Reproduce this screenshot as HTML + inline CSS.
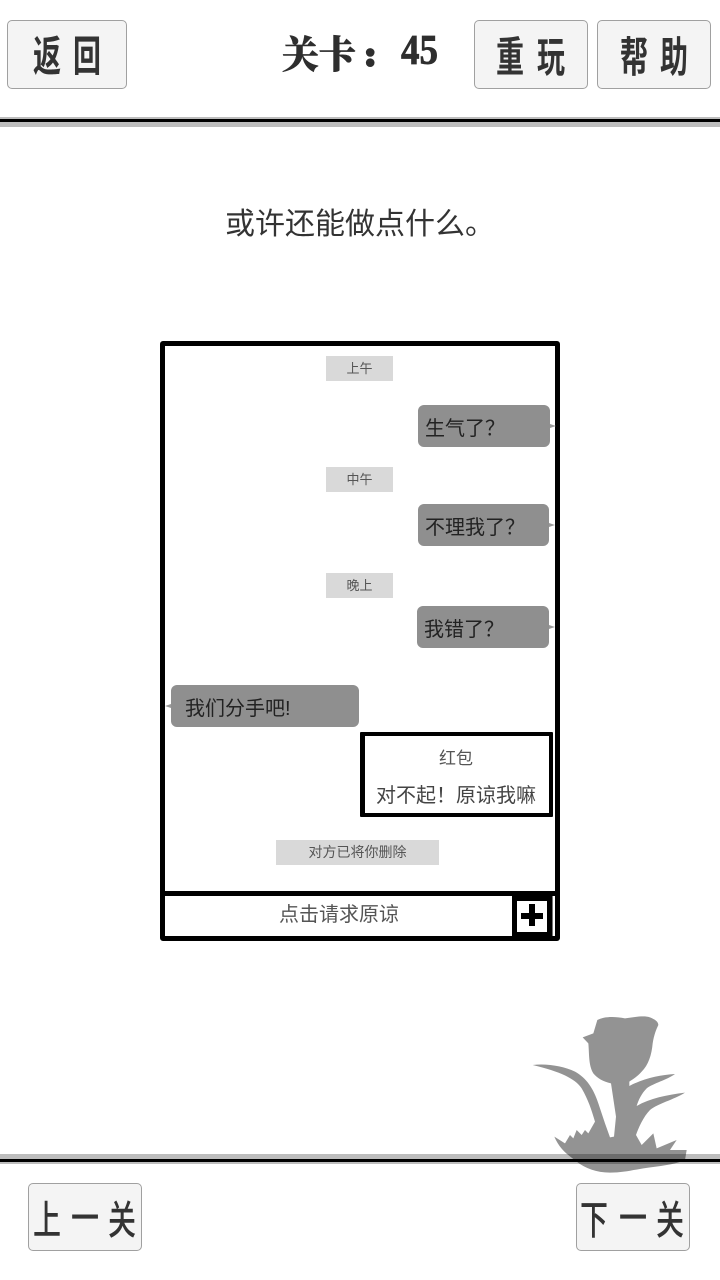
<!DOCTYPE html>
<html lang="zh"><head><meta charset="utf-8"><style>
html,body{margin:0;padding:0;background:#fff}
body{position:relative;width:720px;height:1280px;overflow:hidden;font-family:"Liberation Sans","Noto Sans CJK SC",sans-serif;color:#333}
div{position:absolute;box-sizing:border-box}
.t{white-space:nowrap;line-height:1}
.btn{background:#f4f4f4;border:1px solid #a0a0a0;border-radius:5px}
.g{transform-origin:0 0;font-weight:700;font-family:"Noto Sans CJK SC",sans-serif;color:#333;white-space:nowrap;line-height:1;font-size:40px}
.v{transform:scale(.7,1.05)}
.n{font-weight:500;transform:scale(.7,1)}
.h{font-family:"Noto Serif CJK SC",serif;font-weight:900;font-size:38px;color:#2e2e2e;-webkit-text-stroke:.6px #2e2e2e}
.b{background:#8f8f8f;border-radius:6px;height:42px}
.b span{position:absolute;left:7px;top:14px;font-size:20px;line-height:1;color:#222;white-space:nowrap}
.l{background:#d9d9d9;height:25px;width:67px;font-size:13px;text-align:center;line-height:25px;color:#555}
.th{width:0;height:0;border-top:2.500px solid transparent;border-bottom:2.500px solid transparent}
</style></head><body>
<div style="left:0;top:117px;width:720px;height:10px;background:#bdbdbd"></div>
<div style="left:0;top:119px;width:720px;height:3px;background:#000"></div>
<div style="left:0;top:1154px;width:720px;height:10px;background:#bdbdbd"></div>
<div style="left:0;top:1159px;width:720px;height:3px;background:#000"></div>

<div class="btn" style="left:7px;top:20px;width:120px;height:69px"></div>
<div class="g v" style="left:33px;top:32px">返</div>
<div class="g v" style="left:73px;top:32px">回</div>
<div class="g h" style="left:282px;top:33px;transform:scaleX(.97)">关卡</div>
<div class="g" style="left:365px;top:38px;font-family:'Liberation Serif',serif;font-size:32px;color:#2e2e2e;-webkit-text-stroke:3.5px #2e2e2e">:</div>
<div class="g" style="left:401px;top:30px;font-family:'Liberation Serif',serif;font-weight:700;font-size:42px;transform:scaleX(.88);color:#2e2e2e;-webkit-text-stroke:.8px #2e2e2e">45</div>
<div class="btn" style="left:474px;top:20px;width:114px;height:69px"></div>
<div class="g v" style="left:496px;top:33px">重</div>
<div class="g v" style="left:537px;top:33px">玩</div>
<div class="btn" style="left:597px;top:20px;width:114px;height:69px"></div>
<div class="g v" style="left:620px;top:33px">帮</div>
<div class="g v" style="left:660px;top:33px">助</div>

<div class="t" style="left:225px;top:210px;font-size:30px;color:#333;font-weight:400">或许还能做点什么。</div>

<div style="left:160px;top:341px;width:400px;height:600px;border:5px solid #000;border-radius:3px"></div>
<div class="l" style="left:326px;top:356px">上午</div>
<div class="l" style="left:326px;top:467px">中午</div>
<div class="l" style="left:326px;top:573px">晚上</div>
<div class="l" style="left:276px;top:840px;width:163px;font-size:14px">对方已将你删除</div>

<div class="b" style="left:418px;top:405px;width:132px"><span>生气了？</span></div>
<div class="th" style="left:550px;top:423.500px;border-left:6px solid #9a9a9a"></div>
<div class="b" style="left:418px;top:504px;width:131px"><span>不理我了？</span></div>
<div class="th" style="left:549px;top:522.500px;border-left:6px solid #9a9a9a"></div>
<div class="b" style="left:417px;top:606px;width:132px"><span>我错了？</span></div>
<div class="th" style="left:549px;top:624.500px;border-left:6px solid #9a9a9a"></div>
<div class="b" style="left:171px;top:685px;width:188px"><span style="left:14px">我们分手吧!</span></div>
<div class="th" style="left:165px;top:703.500px;border-right:6px solid #9a9a9a"></div>

<div style="left:360px;top:732px;width:193px;height:85px;border:4px solid #000;border-left-width:5px;border-radius:1px"></div>
<div class="t" style="left:439px;top:750px;font-size:17px;color:#555">红包</div>
<div class="t" style="left:376px;top:786px;font-size:20px;color:#444">对不起！原谅我嘛</div>

<div style="left:163px;top:891px;width:394px;height:5px;background:#000"></div>
<div class="t" style="left:279px;top:905px;font-size:20px;color:#555">点击请求原谅</div>
<div style="left:512px;top:896px;width:40px;height:41px;border:5px solid #000;background:#fff"></div>
<div style="left:552px;top:896px;width:1px;height:40px;background:#777"></div>
<div style="left:521px;top:912.500px;width:22px;height:6px;background:#000"></div>
<div style="left:529px;top:904px;width:6px;height:22px;background:#000"></div>

<svg width="720" height="1280" viewBox="0 0 720 1280" style="position:absolute;left:0;top:0;mix-blend-mode:multiply">
<g transform="translate(510 1000) scale(.33333)">
<path fill="#939393" d="M262 60 C280 50 310 48 345 55 C370 52 400 45 420 52 C435 58 445 65 445 75 C438 90 432 105 428 130 C425 165 415 195 395 215 C380 232 365 240 358 245 L358 258 C400 235 450 225 495 222 C470 240 430 250 410 265 C395 280 385 300 380 318 C420 295 470 285 525 278 C490 300 445 310 420 330 C400 350 385 385 378 405 L395 435 L430 400 L440 445 L500 420 L480 450 L530 450 L525 480 C490 495 450 498 400 505 C370 510 340 518 300 518 C260 518 225 505 200 485 C175 465 150 450 133 410 L165 430 L180 405 L190 415 L200 390 L215 405 L225 390 L235 400 L255 365 C245 330 235 300 215 265 C195 235 150 215 68 195 C110 190 160 198 195 215 C230 235 250 265 265 310 L285 370 L300 412 L312 410 L318 350 L303 250 C280 245 262 235 250 220 C235 195 238 160 235 130 L218 112 L250 100 Z"/>
</g></svg>

<div class="btn" style="left:28px;top:1183px;width:114px;height:68px"></div>
<div class="g n" style="left:33px;top:1197px">上</div>
<div class="g n" style="left:71px;top:1195px">一</div>
<div class="g n" style="left:108px;top:1197px">关</div>
<div class="btn" style="left:576px;top:1183px;width:114px;height:68px"></div>
<div class="g n" style="left:580px;top:1197px">下</div>
<div class="g n" style="left:619px;top:1195px">一</div>
<div class="g n" style="left:656px;top:1197px">关</div>
</body></html>
